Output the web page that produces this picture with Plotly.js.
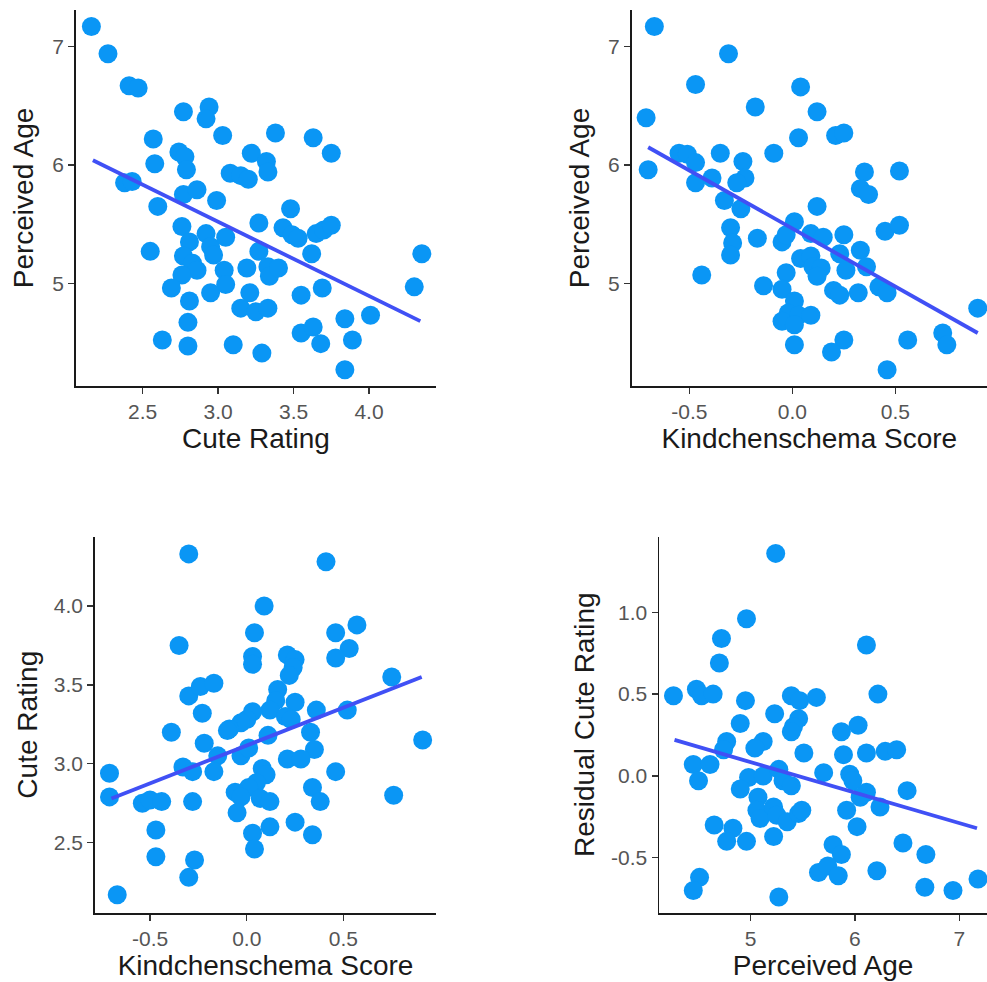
<!DOCTYPE html>
<html>
<head>
<meta charset="utf-8">
<script src="https://cdn.plot.ly/plotly-3.0.1.min.js"></script>
<style>html,body{margin:0;padding:0;background:#fff;}#chart{width:987px;height:982px;}</style>
</head>
<body>
<div id="chart"></div>
<script>
// Panel 1: Cute Rating vs Perceived Age
const p1_cute = [2.16,2.27,2.41,2.47,2.77,2.94,2.92,3.03,2.57,3.38,3.63,3.75,2.74,2.78,2.58,2.79,3.22,3.32,3.33,3.08,3.15,3.20,2.38,2.43,2.77,2.86,2.99,2.60,3.48,3.27,2.76,2.81,2.92,2.95,3.05,3.43,3.49,3.53,3.65,3.70,3.75,2.55,3.27,3.62,4.35,2.77,2.83,2.86,2.97,2.76,3.04,3.05,3.19,3.33,3.34,3.40,2.69,2.95,3.21,2.81,3.55,3.69,4.30,3.15,3.25,3.33,3.84,4.01,2.80,2.63,2.80,3.10,3.29,3.55,3.63,3.68,3.89,3.84];
const p1_age  = [7.17,6.94,6.67,6.65,6.45,6.49,6.39,6.25,6.22,6.27,6.23,6.10,6.11,6.07,6.01,5.96,6.10,6.03,5.94,5.93,5.91,5.88,5.85,5.86,5.75,5.79,5.70,5.65,5.63,5.51,5.48,5.35,5.42,5.31,5.39,5.47,5.41,5.38,5.42,5.45,5.49,5.27,5.27,5.25,5.25,5.23,5.17,5.11,5.24,5.07,5.11,4.99,5.13,5.14,5.06,5.13,4.96,4.92,4.92,4.85,4.90,4.96,4.97,4.79,4.76,4.79,4.70,4.73,4.67,4.52,4.47,4.48,4.41,4.58,4.63,4.49,4.52,4.27];
const fit1_x = [2.17, 4.34];
const fit1_y = [6.04, 4.68];

// Panel 2: Kindchenschema Score vs Perceived Age
const p2_kind = [-0.67,-0.31,-0.47,0.04,-0.71,-0.18,0.12,0.03,0.21,0.25,-0.70,-0.55,-0.51,-0.47,-0.35,-0.09,-0.47,-0.39,-0.24,-0.23,-0.27,-0.33,-0.25,0.12,0.35,0.33,0.37,0.52,-0.30,-0.29,-0.30,-0.17,-0.05,-0.03,0.01,0.09,0.15,0.25,0.45,0.52,-0.44,0.04,0.09,0.10,0.14,0.12,0.23,0.26,0.33,0.36,-0.03,-0.14,-0.05,0.20,0.23,0.32,0.42,0.46,0.01,-0.02,0.03,0.09,-0.05,0.01,0.01,0.25,0.19,0.56,0.73,0.75,0.90,0.46];
const p2_age  = [7.17,6.94,6.68,6.66,6.40,6.49,6.45,6.23,6.25,6.27,5.96,6.10,6.09,6.02,6.10,6.10,5.85,5.89,6.03,5.89,5.85,5.70,5.63,5.65,5.94,5.80,5.75,5.95,5.47,5.34,5.24,5.38,5.35,5.41,5.52,5.42,5.39,5.41,5.44,5.49,5.07,5.21,5.23,5.14,5.13,5.06,5.25,5.11,5.28,5.14,5.09,4.98,4.95,4.94,4.90,4.92,4.97,4.92,4.85,4.75,4.73,4.73,4.68,4.65,4.48,4.52,4.42,4.52,4.58,4.48,4.79,4.27];
const fit2_x = [-0.70, 0.90];
const fit2_y = [6.15, 4.58];

// Panel 3: Kindchenschema Score vs Cute Rating
const p3_kind = [-0.30,0.41,0.09,0.04,0.46,0.53,0.46,0.57,-0.35,0.03,0.03,0.21,0.25,0.24,0.22,0.75,-0.30,-0.24,-0.17,0.16,0.15,0.12,0.25,-0.23,0.03,0.00,-0.03,0.36,0.52,-0.09,-0.10,-0.39,0.20,0.23,0.11,0.33,-0.22,-0.15,-0.17,-0.03,0.01,0.35,0.21,0.28,-0.33,-0.28,-0.71,0.46,0.08,0.10,0.05,0.01,-0.06,-0.03,0.07,0.12,-0.71,-0.54,-0.50,-0.44,-0.28,0.34,0.38,0.76,-0.05,-0.47,0.25,0.12,0.03,0.04,0.34,-0.47,-0.27,-0.30,0.91,-0.67];
const p3_cute = [4.33,4.28,4.00,3.83,3.83,3.73,3.67,3.88,3.75,3.68,3.63,3.69,3.66,3.61,3.56,3.55,3.43,3.49,3.51,3.47,3.40,3.34,3.39,3.32,3.33,3.28,3.26,3.34,3.34,3.22,3.21,3.20,3.30,3.28,3.18,3.20,3.13,3.05,2.95,3.05,3.10,3.09,3.03,3.03,2.98,2.95,2.94,2.95,2.97,2.93,2.88,2.85,2.82,2.79,2.78,2.76,2.79,2.75,2.77,2.76,2.76,2.85,2.76,2.80,2.69,2.58,2.63,2.60,2.56,2.46,2.55,2.41,2.39,2.28,3.15,2.17];
const fit3_x = [-0.70, 0.905];
const fit3_y = [2.78, 3.55];

// Panel 4: Perceived Age vs Residual Cute Rating
const p4_age   = [5.24,4.96,4.72,4.70,6.11,4.26,4.48,4.53,4.64,4.95,5.39,5.47,5.63,6.22,5.23,5.46,5.41,5.39,4.90,5.87,6.03,4.77,4.74,5.12,5.04,5.51,5.89,6.11,6.29,6.40,4.45,4.61,4.50,4.98,5.12,5.27,5.31,5.39,5.70,5.95,5.98,4.90,6.11,6.05,6.50,5.07,6.24,5.06,5.09,5.22,5.25,5.35,5.46,5.49,5.92,6.02,4.65,4.83,4.77,4.96,5.22,5.79,5.87,6.46,6.68,5.65,5.74,5.84,6.21,4.51,4.45,6.67,6.94,7.18,5.27];
const p4_resid = [1.36,0.96,0.84,0.69,0.80,0.49,0.53,0.49,0.50,0.46,0.49,0.46,0.48,0.50,0.38,0.35,0.30,0.27,0.32,0.27,0.31,0.21,0.16,0.21,0.17,0.14,0.13,0.14,0.15,0.16,0.07,0.07,-0.03,-0.01,0.00,0.04,-0.03,-0.06,0.02,0.01,-0.03,-0.08,-0.10,-0.13,-0.09,-0.13,-0.19,-0.21,-0.26,-0.19,-0.24,-0.28,-0.23,-0.21,-0.21,-0.31,-0.30,-0.32,-0.40,-0.40,-0.37,-0.42,-0.48,-0.41,-0.48,-0.59,-0.55,-0.61,-0.58,-0.62,-0.70,-0.68,-0.70,-0.63,-0.74];
const fit4_x = [4.27, 7.17];
const fit4_y = [0.22, -0.32];

const ticks_cute = [2.5, 3.0, 3.5, 4.0];
const ticks_cute_lbl = ['2.5', '3.0', '3.5', '4.0'];
const ticks_age = [5, 6, 7];
const ticks_age_lbl = ['5', '6', '7'];
const ticks_kind = [-0.5, 0.0, 0.5];
const ticks_kind_lbl = ['-0.5', '0.0', '0.5'];
const ticks_resid = [-0.5, 0.0, 0.5, 1.0];
const ticks_resid_lbl = ['-0.5', '0.0', '0.5', '1.0'];

const ptColor = '#0A96F5';
const lineColor = '#4050F5';
const mk = {color: ptColor, size: 19, line: {width: 0}};

function pts(x, y, n) {
  return {x: x, y: y, xaxis: 'x' + n, yaxis: 'y' + n, type: 'scatter', mode: 'markers', marker: mk, hoverinfo: 'skip', cliponaxis: false};
}
function fit(x, y, n) {
  return {x: x, y: y, xaxis: 'x' + n, yaxis: 'y' + n, type: 'scatter', mode: 'lines', line: {color: lineColor, width: 3.8}, hoverinfo: 'skip'};
}

const data = [
  pts(p1_cute, p1_age, ''), fit(fit1_x, fit1_y, ''),
  pts(p2_kind, p2_age, '2'), fit(fit2_x, fit2_y, '2'),
  pts(p3_kind, p3_cute, '3'), fit(fit3_x, fit3_y, '3'),
  pts(p4_age, p4_resid, '4'), fit(fit4_x, fit4_y, '4')
];

const fontFam = 'Liberation Sans, Arial, sans-serif';
function ax(domain, range, tv, tt, title, anchor, standoff) {
  return {
    domain: domain, range: range, tickvals: tv, ticktext: tt,
    showline: true, linecolor: '#1a1a1a', linewidth: 1.8,
    ticks: 'outside', ticklen: 6, tickwidth: 1.3, tickcolor: '#333',
    showgrid: false, zeroline: false, automargin: false, anchor: anchor,
    tickfont: {family: fontFam, size: 21, color: '#555555'},
    title: {text: title, font: {family: fontFam, size: 28, color: '#1a1a1a'}, standoff: standoff},
    fixedrange: true
  };
}

const W = 987, H = 982;
const layout = {
  width: W, height: H,
  margin: {l: 0, r: 0, t: 0, b: 0},
  paper_bgcolor: '#ffffff', plot_bgcolor: '#ffffff',
  showlegend: false,
  xaxis:  ax([76/W, 436/W], [2.058, 4.444], ticks_cute, ticks_cute_lbl, 'Cute Rating', 'y', 6),
  yaxis:  ax([1-386/H, 1-10/H], [4.132, 7.31], ticks_age, ticks_age_lbl, 'Perceived Age', 'x', 10),
  xaxis2: ax([631.7/W, 1.0], [-0.78, 0.945], ticks_kind, ticks_kind_lbl, 'Kindchenschema Score', 'y2', 6),
  yaxis2: ax([1-386/H, 1-10/H], [4.132, 7.31], ticks_age, ticks_age_lbl, 'Perceived Age', 'x2', 10),
  xaxis3: ax([95/W, 436/W], [-0.785, 0.979], ticks_kind, ticks_kind_lbl, 'Kindchenschema Score', 'y3', 6),
  yaxis3: ax([1-912.7/H, 1-536.7/H], [2.056, 4.439], ticks_cute, ticks_cute_lbl, 'Cute Rating', 'x3', 8),
  xaxis4: ax([659.3/W, 1.0], [4.124, 7.266], ticks_age, ticks_age_lbl, 'Perceived Age', 'y4', 6),
  yaxis4: ax([1-912.7/H, 1-536.7/H], [-0.836, 1.462], ticks_resid, ticks_resid_lbl, 'Residual Cute Rating', 'x4', 8)
};

Plotly.newPlot('chart', data, layout, {displayModeBar: false, staticPlot: true});
</script>
</body>
</html>
